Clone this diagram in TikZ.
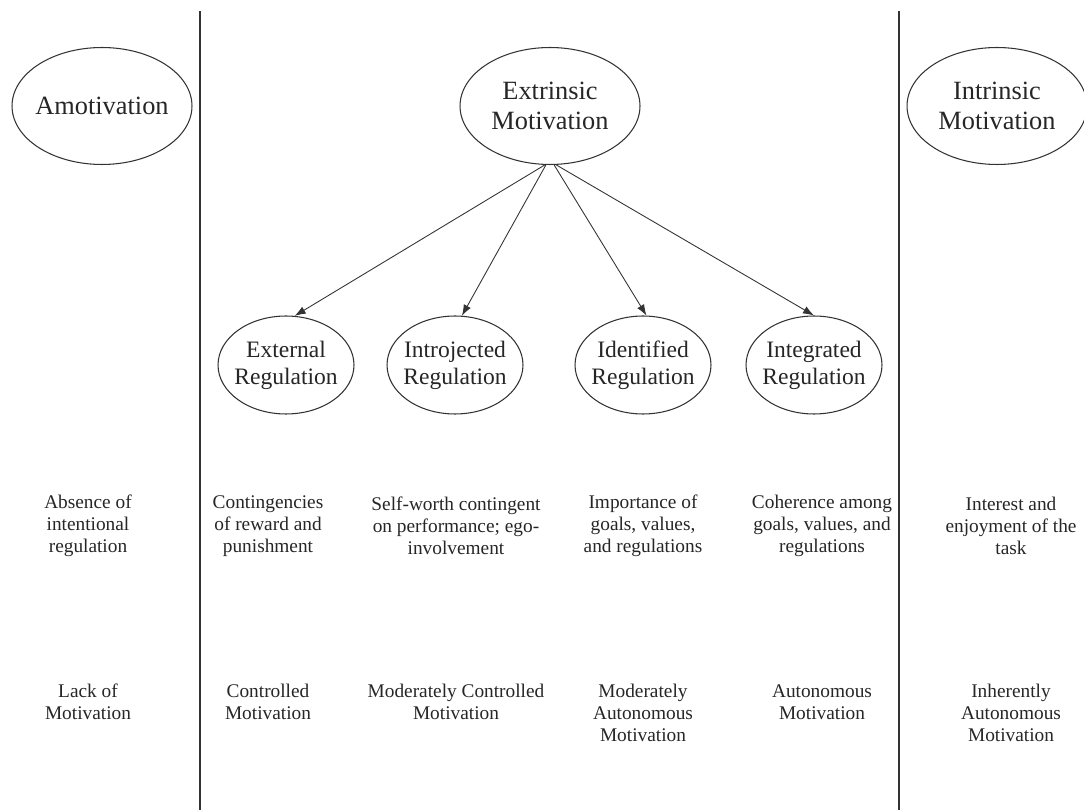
\documentclass[tikz,border=0pt]{standalone}
\usepackage{fontspec}
\setmainfont{Liberation Serif}
\usetikzlibrary{shapes.geometric,arrows.meta}

\begin{document}
\begin{tikzpicture}[x=0.02cm, y=-0.02cm,
    topoval/.style={ellipse, draw=black!80, line width=0.6pt, inner sep=0pt,
      inner xsep=-0.15cm, minimum width=3.6cm, minimum height=2.34cm,
      align=center, text=black!85, font=\fontsize{15}{17}\selectfont},
    regoval/.style={topoval, inner xsep=-0.2cm, minimum width=2.72cm,
      minimum height=1.96cm, font=\fontsize{13.4}{15.4}\selectfont},
    desc/.style={align=center, inner sep=0pt, text=black!85,
      font=\fontsize{11}{12.5}\selectfont},
    link/.style={-{Latex[length=2.2mm,width=1.6mm]}, line width=0.5pt, black!80}]
    \useasboundingbox (0,0) rectangle (1084,810);

    % Dividers
    \draw[line width=1.1pt, black!80] (200,11) -- (200,810);
    \draw[line width=1.1pt, black!80] (899,11) -- (899,810);

    % Motivation types
    \node[topoval] (amot) at (102,106) {Amotivation};
    \node[topoval] (ext) at (550,106) {Extrinsic\\Motivation};
    \node[topoval] (intr) at (997,106) {Intrinsic\\Motivation};

    % Regulation styles
    \node[regoval] (extreg) at (286,365) {External\\Regulation};
    \node[regoval] (introreg) at (455,365) {Introjected\\Regulation};
    \node[regoval] (identreg) at (643,365) {Identified\\Regulation};
    \node[regoval] (integreg) at (814,365) {Integrated\\Regulation};

    % Arrows
    \draw[link] (ext.265) -- (extreg.80);
    \draw[link] (ext.266) -- (introreg.82);
    \draw[link] (ext.274) -- (identreg.86);
    \draw[link] (ext.276) -- (integreg.north);

    % Regulatory processes
    \node[desc] (proc1) at (88,526) {Absence of\\intentional\\regulation};
    \node[desc] (proc2) at (268,526) {Contingencies\\of reward and\\punishment};
    \node[desc] (proc3) at (456,526) {Self-worth contingent\\on performance; ego-\\involvement};
    \node[desc] (proc4) at (643,526) {Importance of\\goals, values,\\and regulations};
    \node[desc] (proc5) at (822,526) {Coherence among\\goals, values, and\\regulations};
    \node[desc] (proc6) at (1011,526) {Interest and\\enjoyment of the\\task};

    % Perceived locus of causality
    \node[desc] (locus1) at (88,702) {Lack of\\Motivation};
    \node[desc] (locus2) at (268,702) {Controlled\\Motivation};
    \node[desc] (locus3) at (456,702) {Moderately Controlled\\Motivation};
    \node[desc] (locus4) at (643,713) {Moderately\\Autonomous\\Motivation};
    \node[desc] (locus5) at (822,702) {Autonomous\\Motivation};
    \node[desc] (locus6) at (1011,713) {Inherently\\Autonomous\\Motivation};
\end{tikzpicture}
\end{document}
